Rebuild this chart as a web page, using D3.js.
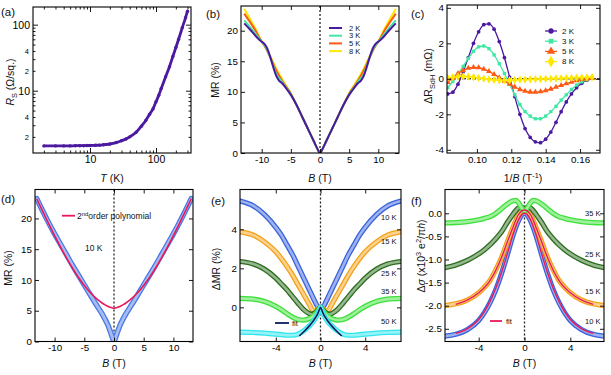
<!DOCTYPE html>
<html>
<head>
<meta charset="utf-8">
<script src="https://cdn.jsdelivr.net/npm/d3@7"></script>
<style>
    body { margin: 0; background: #fff; }
    svg { font-family: "Liberation Sans", Arial, sans-serif; }
</style>
</head>
<body>
<svg id="fig" width="611" height="375"></svg>
<script>
// ---------- (a) sheet resistance vs T ----------
const tempA = [2,3,4,5,6,7,8,9,10,12,14,16,18,20,25,30,35,40,50,60,70,80,90,100,110,120,140,160,180,200,220,250,280,300];
const rsA = [1.46,1.46,1.46,1.46,1.47,1.47,1.47,1.48,1.48,1.49,1.5,1.52,1.54,1.56,1.64,1.75,1.86,2.0,2.35,2.9,3.55,4.4,5.3,6.8,8.5,10.8,16.3,23,33,45,60,90,127,160];
const majorAx = [10, 100];
const minorAx = [2,3,4,5,6,7,8,9,20,30,40,50,60,70,80,90,200,300];
const majorAy = [10, 100];
const minorAy = [2,3,4,5,6,7,8,9,20,30,40,50,60,70,80,90];
const labelMinorAy = [2, 4, 20, 40];

// ---------- (b) MR at low T ----------
const fieldB = [-13,-12,-11,-10.5,-10,-9.5,-9,-8.5,-8,-7.5,-7,-6.5,-6,-5,-4,-3,-2,-1.5,-1,-0.5,0,0.5,1,1.5,2,3,4,5,6,6.5,7,7.5,8,8.5,9,9.5,10,10.5,11,12,13];
const mr2K = [21.2,20.2,19.1,18.6,18.2,17.8,17.0,15.6,14.0,12.6,11.8,11.4,10.8,9.5,7.8,5.8,3.8,2.8,1.8,0.8,0,0.8,1.8,2.8,3.8,5.8,7.8,9.5,10.8,11.4,11.8,12.6,14.0,15.6,17.0,17.8,18.2,18.6,19.1,20.2,21.2];
const mr3K = [21.7,20.6,19.4,18.8,18.2,17.6,16.8,15.5,14.2,12.9,12.2,11.6,10.9,9.6,7.8,5.8,3.8,2.8,1.8,0.8,0,0.8,1.8,2.8,3.8,5.8,7.8,9.6,10.9,11.6,12.2,12.9,14.2,15.5,16.8,17.6,18.2,18.8,19.4,20.6,21.7];
const mr5K = [22.8,21.4,19.9,19.0,18.2,17.5,16.6,15.6,14.5,13.5,12.6,11.8,11.1,9.7,7.8,5.8,3.8,2.8,1.8,0.8,0,0.8,1.8,2.8,3.8,5.8,7.8,9.7,11.1,11.8,12.6,13.5,14.5,15.6,16.6,17.5,18.2,19.0,19.9,21.4,22.8];
const mr8K = [23.6,21.9,20.2,19.2,18.3,17.5,16.7,15.8,14.8,13.8,12.9,12.1,11.3,9.8,7.8,5.8,3.8,2.8,1.8,0.8,0,0.8,1.8,2.8,3.8,5.8,7.8,9.8,11.3,12.1,12.9,13.8,14.8,15.8,16.7,17.5,18.3,19.2,20.2,21.9,23.6];
const lowTemps = ["2 K", "3 K", "5 K", "8 K"];
const ticksBx = [-10, -5, 0, 5, 10];
const ticksBy = [0, 5, 10, 15, 20];

// ---------- (c) SdH oscillations ----------
const invB = [0.083,0.086,0.089,0.092,0.095,0.098,0.101,0.104,0.107,0.110,0.113,0.116,0.119,0.122,0.125,0.128,0.131,0.134,0.137,0.140,0.143,0.146,0.149,0.152,0.155,0.158,0.161,0.164,0.167];
const sdh2K = [-0.85,-0.75,-0.3,0.4,1.2,2.0,2.65,3.05,3.1,2.8,2.1,1.2,0.1,-1.0,-2.0,-2.8,-3.3,-3.55,-3.6,-3.4,-3.0,-2.45,-1.85,-1.3,-0.85,-0.5,-0.25,-0.08,0.05];
const sdh3K = [-0.5,-0.15,0.25,0.7,1.15,1.55,1.8,1.85,1.7,1.35,0.85,0.3,-0.3,-0.9,-1.45,-1.85,-2.1,-2.25,-2.25,-2.1,-1.85,-1.55,-1.2,-0.9,-0.6,-0.35,-0.17,-0.05,0.05];
const sdh5K = [-0.2,0.05,0.3,0.48,0.6,0.65,0.63,0.55,0.42,0.25,0.07,-0.12,-0.3,-0.46,-0.6,-0.69,-0.74,-0.75,-0.72,-0.66,-0.57,-0.47,-0.37,-0.27,-0.18,-0.1,-0.04,0.0,0.03];
const sdh8K = [0.05,0.1,0.13,0.14,0.12,0.09,0.05,0.01,-0.03,-0.06,-0.08,-0.09,-0.08,-0.07,-0.05,-0.04,-0.03,-0.02,-0.01,0,0.01,0.02,0.03,0.04,0.05,0.06,0.07,0.08,0.09];
const ticksCx = [0.10, 0.12, 0.14, 0.16];
const ticksCy = [-4, -2, 0, 2, 4];

// ---------- (d) MR at 10 K with polynomial ----------
const fieldD = [-13,-12,-11,-10,-9,-8,-7,-6,-5,-4,-3,-2,-1.5,-1,-0.5,-0.25,0,0.25,0.5,1,1.5,2,3,4,5,6,7,8,9,10,11,12,13];
const mr10K = [23.2,21.2,19.3,17.5,15.8,14.1,12.4,10.8,9.2,7.6,6.0,4.5,3.6,2.6,1.3,0.6,0,0.6,1.3,2.6,3.6,4.5,6.0,7.6,9.2,10.8,12.4,14.1,15.8,17.5,19.3,21.2,23.2];
const polyD = [23.2,21.15,19.15,17.2,15.35,13.6,11.95,10.45,9.1,7.95,7.0,6.25,5.95,5.7,5.52,5.45,5.4,5.45,5.52,5.7,5.95,6.25,7.0,7.95,9.1,10.45,11.95,13.6,15.35,17.2,19.15,21.15,23.2];

// ---------- (e) delta MR ----------
const fieldE = [-7.2,-6,-5,-4,-3.5,-3,-2.5,-2,-1.5,-1,-0.75,-0.5,-0.25,0,0.25,0.5,0.75,1,1.5,2,2.5,3,3.5,4,5,6,7.2];
const dmr10K = [5.45,5.2,4.75,4.1,3.7,3.2,2.7,2.1,1.5,0.9,0.6,0.3,0.05,0,0.05,0.3,0.6,0.9,1.5,2.1,2.7,3.2,3.7,4.1,4.75,5.2,5.45];
const dmr15K = [3.87,3.7,3.35,2.85,2.5,2.1,1.65,1.15,0.65,0.15,-0.12,-0.2,-0.1,0,-0.1,-0.2,-0.12,0.15,0.65,1.15,1.65,2.1,2.5,2.85,3.35,3.7,3.87];
const dmr25K = [2.35,2.22,1.95,1.5,1.2,0.9,0.55,0.2,-0.12,-0.32,-0.35,-0.28,-0.15,0,-0.15,-0.28,-0.35,-0.32,-0.12,0.2,0.55,0.9,1.2,1.5,1.95,2.22,2.35];
const dmr35K = [0.46,0.42,0.3,0.05,-0.12,-0.32,-0.5,-0.62,-0.65,-0.58,-0.5,-0.38,-0.2,0,-0.2,-0.38,-0.5,-0.58,-0.65,-0.62,-0.5,-0.32,-0.12,0.05,0.3,0.42,0.46];
const dmr50K = [-1.27,-1.29,-1.32,-1.37,-1.4,-1.43,-1.43,-1.37,-1.2,-0.95,-0.8,-0.6,-0.35,0,-0.35,-0.6,-0.8,-0.95,-1.2,-1.37,-1.43,-1.43,-1.4,-1.37,-1.32,-1.29,-1.27];
const fitFieldE = [-1.9,-1.5,-1,-0.75,-0.5,-0.25,-0.1,0,0.1,0.25,0.5,0.75,1,1.5,1.9];
const fitE = [-1.47,-1.25,-0.95,-0.78,-0.57,-0.33,-0.12,0,-0.12,-0.33,-0.57,-0.78,-0.95,-1.25,-1.47];
const highTempsE = ["10 K", "15 K", "25 K", "35 K", "50 K"];
const ticksEx = [-4, 0, 4];
const ticksEy = [0, 2, 4];

// ---------- (f) delta sigma ----------
const fieldF = [-7,-6,-5,-4,-3.5,-3,-2.5,-2,-1.5,-1,-0.75,-0.5,-0.25,0,0.25,0.5,0.75,1,1.5,2,2.5,3,3.5,4,5,6,7];
const ds10K = [-2.66,-2.62,-2.52,-2.32,-2.15,-1.93,-1.65,-1.3,-0.9,-0.48,-0.3,-0.15,-0.04,0,-0.04,-0.15,-0.3,-0.48,-0.9,-1.3,-1.65,-1.93,-2.15,-2.32,-2.52,-2.62,-2.66];
const ds15K = [-2.0,-1.96,-1.88,-1.72,-1.6,-1.45,-1.22,-0.95,-0.62,-0.3,-0.15,-0.02,0.05,0.07,0.05,-0.02,-0.15,-0.3,-0.62,-0.95,-1.22,-1.45,-1.6,-1.72,-1.88,-1.96,-2.0];
const ds25K = [-1.18,-1.12,-1.02,-0.88,-0.79,-0.68,-0.55,-0.4,-0.2,-0.02,0.06,0.12,0.13,0.1,0.13,0.12,0.06,-0.02,-0.2,-0.4,-0.55,-0.68,-0.79,-0.88,-1.02,-1.12,-1.18];
const ds35K = [-0.21,-0.2,-0.18,-0.14,-0.11,-0.07,0.0,0.1,0.2,0.27,0.28,0.22,0.12,0.05,0.12,0.22,0.28,0.27,0.2,0.1,0.0,-0.07,-0.11,-0.14,-0.18,-0.2,-0.21];
const fitFieldF = [-6,-5,-4,-3,-2,-1.5,-1,-0.5,0,0.5,1,1.5,2,3,4,5,6];
const fit10K = [-2.6,-2.5,-2.3,-1.9,-1.28,-0.88,-0.46,-0.13,0,-0.13,-0.46,-0.88,-1.28,-1.9,-2.3,-2.5,-2.6];
const fit15K = [-1.97,-1.88,-1.72,-1.45,-0.95,-0.62,-0.3,-0.02,0.07,-0.02,-0.3,-0.62,-0.95,-1.45,-1.72,-1.88,-1.97];
const highTempsF = ["35 K", "25 K", "15 K", "10 K"];
const ticksFx = [-4, 0, 4];
const ticksFy = [0, -0.5, -1, -1.5, -2, -2.5];

// colours
const colLow = ["#4b1aa0", "#3ee8a4", "#ff5a14", "#ffe800"];
const blue = "#3a64dc", orange = "#f5a21b", dgreen = "#2d6e1e", green = "#3ee03a", cyan = "#2ee6ee";
const navy = "#0b1f5c", pink = "#e8185a";

const svg = d3.select("#fig");
const fmtInt = d => d < 0 ? "-" + (-d) : String(d);
let clipN = 0;

function makePanel(box, x, y) {
    x.range([box.l, box.r]);
    y.range([box.b, box.t]);
    const id = "clip" + (clipN++);
    svg.append("clipPath").attr("id", id)
        .append("rect").attr("x", box.l).attr("y", box.t)
        .attr("width", box.r - box.l).attr("height", box.b - box.t);
    const plot = svg.append("g").attr("clip-path", `url(#${id})`);
    const axes = svg.append("g");
    return {box, x, y, plot, axes};
}

function putAxis(p, axis, tr, size) {
    p.axes.append("g").attr("transform", tr).call(axis)
        .call(g => g.select(".domain").remove())
        .call(g => g.attr("font-family", null))
        .call(g => g.selectAll("text").style("font-size", (size || 9.8) + "px"))
        .call(g => g.selectAll("line").attr("stroke-width", 0.9));
}

function addAxes(p, xt, yt, xf, yf) {
    const b = p.box, len = 4;
    const none = () => "";
    putAxis(p, d3.axisBottom(p.x).tickValues(xt).tickFormat(xf).tickSize(-len).tickPadding(3), `translate(0,${b.b})`);
    putAxis(p, d3.axisTop(p.x).tickValues(xt).tickFormat(none).tickSize(-len), `translate(0,${b.t})`);
    putAxis(p, d3.axisLeft(p.y).tickValues(yt).tickFormat(yf).tickSize(-len).tickPadding(3), `translate(${b.l},0)`);
    putAxis(p, d3.axisRight(p.y).tickValues(yt).tickFormat(none).tickSize(-len), `translate(${b.r},0)`);
}

function addFrame(p) {
    const b = p.box;
    p.axes.append("rect").attr("x", b.l).attr("y", b.t)
        .attr("width", b.r - b.l).attr("height", b.b - b.t)
        .attr("fill", "none").attr("stroke", "#000").attr("stroke-width", 1.1);
}

function zeroLine(p, vertical) {
    const b = p.box;
    if (vertical) {
        p.plot.append("line").attr("x1", p.x(0)).attr("x2", p.x(0)).attr("y1", b.t).attr("y2", b.b)
            .attr("stroke", "#222").attr("stroke-width", 1.3).attr("stroke-dasharray", "2,2");
    } else {
        p.plot.append("line").attr("x1", b.l).attr("x2", b.r).attr("y1", p.y(0)).attr("y2", p.y(0))
            .attr("stroke", "#000").attr("stroke-width", 1).attr("stroke-dasharray", "4,1");
    }
}

function pathOf(p, xs, ys, curve) {
    const pts = xs.map((v, i) => [p.x(v), p.y(ys[i])]);
    return d3.line().curve(curve || d3.curveMonotoneX)(pts);
}

function drawLine(p, xs, ys, col, w) {
    p.plot.append("path").attr("d", pathOf(p, xs, ys))
        .attr("fill", "none").attr("stroke", col).attr("stroke-width", w)
        .attr("stroke-linejoin", "round");
}

// thick band that stands in for the dense open circles
function drawTube(p, xs, ys, col, w) {
    const d = pathOf(p, xs, ys);
    const light = d3.interpolateRgb(col, "#fff")(0.5);
    p.plot.append("path").attr("d", d).attr("fill", "none").attr("stroke", col)
        .attr("stroke-width", w).attr("stroke-linecap", "round").attr("stroke-linejoin", "round");
    p.plot.append("path").attr("d", d).attr("fill", "none").attr("stroke", light)
        .attr("stroke-width", w - 2.6).attr("stroke-linecap", "round").attr("stroke-linejoin", "round");
}

function richText(x, y, parts, size, anchor, rotate) {
    const t = svg.append("text").attr("font-size", size).attr("text-anchor", anchor || "middle").attr("fill", "#111");
    if (rotate) t.attr("transform", `translate(${x},${y}) rotate(-90)`);
    else t.attr("x", x).attr("y", y);
    let shift = 0;
    parts.forEach(([s, k]) => {
        const ts = t.append("tspan").text(s);
        let want = 0;
        if (k === "sub") want = size * 0.3;
        if (k === "sup") want = -size * 0.4;
        if (want - shift !== 0) ts.attr("dy", want - shift);
        shift = want;
        if (k === "sub" || k === "sup") ts.attr("font-size", size * 0.7);
        if (k === "i") ts.attr("font-style", "italic");
    });
    return t;
}

function panelLabel(x, y, s) {
    svg.append("text").attr("x", x).attr("y", y).attr("font-size", 11.5).attr("fill", "#111").text(s);
}

// ================= (a) =================
{
    const p = makePanel({l: 33, r: 191, t: 7, b: 153}, d3.scaleLog().domain([1.37, 339]), d3.scaleLog().domain([1.14, 185]));
    drawLine(p, tempA, rsA, colLow[0], 2.8);
    p.plot.selectAll("circle").data(tempA).join("circle")
        .attr("cx", d => p.x(d)).attr("cy", (d, i) => p.y(rsA[i])).attr("r", 1.7).attr("fill", colLow[0]);
    const b = p.box, none = () => "";
    const first = d => String(d).charAt(0);
    putAxis(p, d3.axisBottom(p.x).tickValues(majorAx).tickFormat(d => String(d)).tickSize(-5).tickPadding(3), `translate(0,${b.b})`, 10.5);
    putAxis(p, d3.axisBottom(p.x).tickValues(minorAx).tickFormat(none).tickSize(-2.5), `translate(0,${b.b})`);
    putAxis(p, d3.axisTop(p.x).tickValues(majorAx).tickFormat(none).tickSize(-5), `translate(0,${b.t})`);
    putAxis(p, d3.axisTop(p.x).tickValues(minorAx).tickFormat(none).tickSize(-2.5), `translate(0,${b.t})`);
    putAxis(p, d3.axisLeft(p.y).tickValues(majorAy).tickFormat(d => String(d)).tickSize(-5).tickPadding(3), `translate(${b.l},0)`, 10.5);
    putAxis(p, d3.axisLeft(p.y).tickValues(minorAy).tickFormat(d => labelMinorAy.includes(d) ? first(d) : "").tickSize(-2.5).tickPadding(4), `translate(${b.l},0)`, 7.5);
    putAxis(p, d3.axisRight(p.y).tickValues(majorAy).tickFormat(none).tickSize(-5), `translate(${b.r},0)`);
    putAxis(p, d3.axisRight(p.y).tickValues(minorAy).tickFormat(none).tickSize(-2.5), `translate(${b.r},0)`);
    addFrame(p);
    richText(14, 82, [["R", "i"], ["S", "sub"], [" (Ω/sq.)", ""]], 10.5, "middle", true);
    richText(112, 182, [["T", "i"], [" (K)", ""]], 10.5);
    panelLabel(1, 16, "(a)");
}

// ================= (b) =================
{
    const p = makePanel({l: 241, r: 399, t: 6, b: 153}, d3.scaleLinear().domain([-13.55, 13.55]), d3.scaleLinear().domain([0, 24.04]));
    zeroLine(p, true);
    const series = [mr2K, mr3K, mr5K, mr8K];
    [3, 2, 1, 0].forEach(i => drawLine(p, fieldB, series[i], colLow[i], 2));
    addAxes(p, ticksBx, ticksBy, fmtInt, fmtInt);
    addFrame(p);
    const leg = svg.append("g");
    lowTemps.forEach((s, i) => {
        const yy = 28 + i * 7.7;
        leg.append("line").attr("x1", 329).attr("x2", 342).attr("y1", yy).attr("y2", yy)
            .attr("stroke", colLow[i]).attr("stroke-width", 2);
        leg.append("text").attr("x", 349).attr("y", yy).attr("dy", "0.35em")
            .attr("font-size", 7.5).attr("fill", "#111").text(s);
    });
    richText(219, 80, [["MR (%)", ""]], 10.5, "middle", true);
    richText(320, 182, [["B", "i"], [" (T)", ""]], 10.5);
    panelLabel(206, 18, "(b)");
}

// ================= (c) =================
{
    const p = makePanel({l: 447, r: 600, t: 5, b: 153}, d3.scaleLinear().domain([0.0826, 0.1716]), d3.scaleLinear().domain([-4.18, 4.16]));
    zeroLine(p, false);
    const series = [sdh2K, sdh3K, sdh5K, sdh8K];
    const shapes = [d3.symbolCircle, d3.symbolSquare, d3.symbolTriangle, d3.symbolDiamond];
    const sizes = [11, 11, 15, 20];
    [0, 1, 2, 3].forEach(i => {
        drawLine(p, invB, series[i], colLow[i], 1.3);
        p.plot.append("g").selectAll("path").data(invB).join("path")
            .attr("transform", (d, j) => `translate(${p.x(d)},${p.y(series[i][j])})`)
            .attr("d", d3.symbol().type(shapes[i]).size(sizes[i]))
            .attr("fill", colLow[i]);
    });
    addAxes(p, ticksCx, ticksCy, d => d.toFixed(2), fmtInt);
    addFrame(p);
    const leg = svg.append("g");
    lowTemps.forEach((s, i) => {
        const yy = 31 + i * 10.2;
        leg.append("line").attr("x1", 545).attr("x2", 557).attr("y1", yy).attr("y2", yy)
            .attr("stroke", colLow[i]).attr("stroke-width", 1.3);
        leg.append("path").attr("transform", `translate(551,${yy})`)
            .attr("d", d3.symbol().type(shapes[i]).size(sizes[i] * 2)).attr("fill", colLow[i]);
        leg.append("text").attr("x", 562).attr("y", yy).attr("dy", "0.35em")
            .attr("font-size", 8).attr("fill", "#111").text(s);
    });
    richText(432, 76, [["ΔR", ""], ["SdH", "sub"], [" (mΩ)", ""]], 10.5, "middle", true);
    richText(523, 182, [["1/", ""], ["B", "i"], [" (T", ""], ["-1", "sup"], [")", ""]], 10.5);
    panelLabel(411, 18, "(c)");
}

// ================= (d) =================
{
    const p = makePanel({l: 35, r: 193, t: 189.5, b: 341.5}, d3.scaleLinear().domain([-13.3, 13.3]), d3.scaleLinear().domain([0, 24.7]));
    zeroLine(p, true);
    drawTube(p, fieldD, mr10K, "#4a78e4", 5.5);
    drawLine(p, fieldD, polyD, pink, 1.6);
    addAxes(p, ticksBx, ticksBy, fmtInt, fmtInt);
    addFrame(p);
    svg.append("line").attr("x1", 62).attr("x2", 75).attr("y1", 215.7).attr("y2", 215.7)
        .attr("stroke", pink).attr("stroke-width", 1.8);
    richText(77, 219, [["2", ""], ["nd", "sup"], ["order polynomial", ""]], 8.5, "start");
    richText(85, 251, [["10 K", ""]], 8.5, "start");
    richText(12, 268, [["MR (%)", ""]], 10.5, "middle", true);
    richText(114, 367, [["B", "i"], [" (T)", ""]], 10.5);
    panelLabel(1, 203, "(d)");
}

// ================= (e) =================
{
    const p = makePanel({l: 240, r: 401, t: 189.5, b: 341.5}, d3.scaleLinear().domain([-7.2, 7.2]), d3.scaleLinear().domain([-1.75, 6.04]));
    zeroLine(p, true);
    const series = [dmr10K, dmr15K, dmr25K, dmr35K, dmr50K];
    const cols = [blue, orange, dgreen, green, cyan];
    series.forEach((s, i) => drawTube(p, fieldE, s, cols[i], 5.2));
    drawLine(p, fitFieldE, fitE, navy, 1.6);
    addAxes(p, ticksEx, ticksEy, fmtInt, fmtInt);
    addFrame(p);
    const labY = [4.63, 3.36, 1.74, 0.84, -0.7];
    highTempsE.forEach((s, i) => {
        svg.append("text").attr("x", 381).attr("y", p.y(labY[i])).attr("dy", "0.35em")
            .attr("font-size", 7.5).attr("fill", "#111").text(s);
    });
    svg.append("line").attr("x1", 275).attr("x2", 289).attr("y1", 323).attr("y2", 323)
        .attr("stroke", navy).attr("stroke-width", 1.8);
    svg.append("text").attr("x", 292).attr("y", 323).attr("dy", "0.35em")
        .attr("font-size", 7.5).attr("fill", "#111").text("fit");
    richText(220, 269, [["ΔMR (%)", ""]], 10.5, "middle", true);
    richText(320.5, 367, [["B", "i"], [" (T)", ""]], 10.5);
    panelLabel(211, 205, "(e)");
}

// ================= (f) =================
{
    const p = makePanel({l: 445, r: 604, t: 189.5, b: 341.5}, d3.scaleLinear().domain([-6.94, 6.94]), d3.scaleLinear().domain([-2.775, 0.515]));
    zeroLine(p, true);
    const series = [ds10K, ds15K, ds25K, ds35K];
    const cols = [blue, orange, dgreen, green];
    series.forEach((s, i) => drawTube(p, fieldF, s, cols[i], 5.2));
    drawLine(p, fitFieldF, fit10K, pink, 1.4);
    drawLine(p, fitFieldF, fit15K, pink, 1.4);
    addAxes(p, ticksFx, ticksFy, fmtInt, d => d.toFixed(1));
    addFrame(p);
    const labY = [0.0, -0.9, -1.7, -2.35];
    highTempsF.forEach((s, i) => {
        svg.append("text").attr("x", 585).attr("y", p.y(labY[i])).attr("dy", "0.35em")
            .attr("font-size", 7.5).attr("fill", "#111").text(s);
    });
    svg.append("line").attr("x1", 490).attr("x2", 502).attr("y1", 321).attr("y2", 321)
        .attr("stroke", pink).attr("stroke-width", 1.8);
    svg.append("text").attr("x", 506).attr("y", 321).attr("dy", "0.35em")
        .attr("font-size", 7.5).attr("fill", "#111").text("fit");
    richText(425, 256, [["Δ", ""], ["σ", "i"], [" (x10", ""], ["3", "sup"], [" e", ""], ["2", "sup"], ["/π", ""], ["h", "i"], [")", ""]], 10.5, "middle", true);
    richText(524.5, 367, [["B", "i"], [" (T)", ""]], 10.5);
    panelLabel(411, 205, "(f)");
}
</script>
</body>
</html>
